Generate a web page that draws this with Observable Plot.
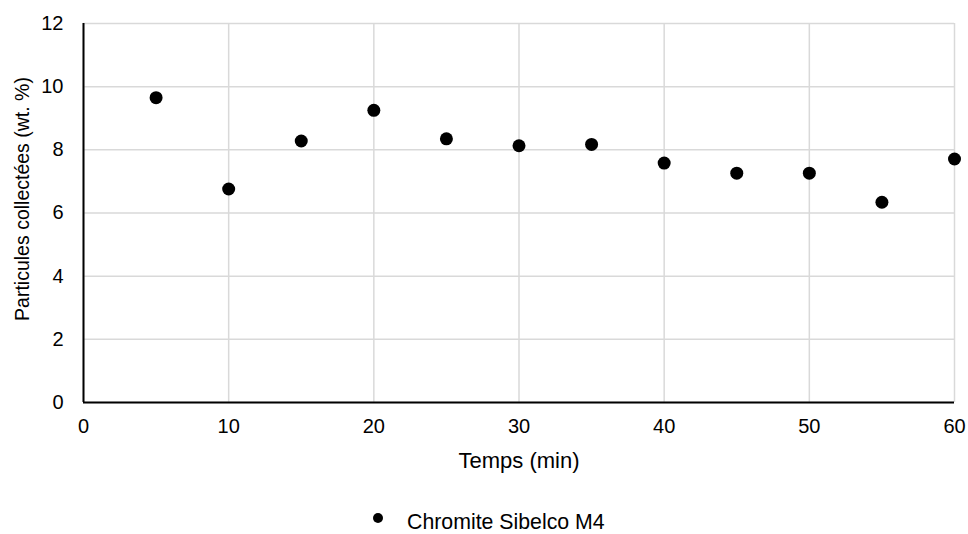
<!DOCTYPE html>
<html>
<head>
<meta charset="utf-8">
<script src="https://cdn.jsdelivr.net/npm/d3@7"></script>
<script src="https://cdn.jsdelivr.net/npm/@observablehq/plot@0.6"></script>
<style>
  body { margin: 0; background: #fff; font-family: "Liberation Sans", Arial, sans-serif; }
  #wrap { position: relative; width: 968px; height: 534px; }
  #legend { position: absolute; left: 373px; top: 509px; height: 26px; display: flex; align-items: center; font-size: 21.3px; color: #000; }
  #legend .dot { width: 10px; height: 10px; border-radius: 50%; background: #000; margin-right: 24px; margin-top: -8px; }
</style>
</head>
<body>
<div id="wrap">
  <div id="chart"></div>
  <div id="legend"><span class="dot"></span><span id="legend-text"></span></div>
</div>
<script>
const times = [5, 10, 15, 20, 25, 30, 35, 40, 45, 50, 55, 60];
const values = [9.65, 6.76, 8.28, 9.25, 8.35, 8.13, 8.17, 7.58, 7.26, 7.26, 6.34, 7.71];
const seriesName = "Chromite Sibelco M4";
const xTicks = [0, 10, 20, 30, 40, 50, 60];
const yTicks = [0, 2, 4, 6, 8, 10, 12];
const xLabel = "Temps (min)";
const yLabel = "Particules collectées (wt. %)";

const data = times.map((t, i) => ({t, v: values[i]}));

const chart = Plot.plot({
  width: 968,
  height: 490,
  marginLeft: 83,
  marginRight: 14,
  marginTop: 23,
  marginBottom: 88,
  style: { fontFamily: '"Liberation Sans", Arial, sans-serif', fontSize: "20px", color: "#000", background: "#fff" },
  x: { domain: [0, 60] },
  y: { domain: [0, 12] },
  marks: [
    Plot.gridX(xTicks, { stroke: "#d9d9d9", strokeOpacity: 1, strokeWidth: 1.5 }),
    Plot.gridY(yTicks, { stroke: "#d9d9d9", strokeOpacity: 1, strokeWidth: 1.5 }),
    Plot.axisX(xTicks, { tickSize: 0, tickPadding: 16, label: null, fill: "#000", fontSize: 20 }),
    Plot.axisY(yTicks, { tickSize: 0, tickPadding: 20, label: null, fill: "#000", fontSize: 20 }),
    Plot.ruleX([0], { stroke: "#000", strokeWidth: 2 }),
    Plot.ruleY([0], { stroke: "#000", strokeWidth: 2 }),
    Plot.dot(data, { x: "t", y: "v", r: 6.5, fill: "#000", stroke: "none" }),
    Plot.text([xLabel], { text: d => d, frameAnchor: "bottom", dy: 58, lineAnchor: "middle", textAnchor: "middle", fill: "#000", fontSize: 22 }),
    Plot.text([yLabel], { text: d => d, frameAnchor: "left", dx: -61, dy: -14, rotate: -90, lineAnchor: "middle", textAnchor: "middle", fill: "#000", fontSize: 19.5 })
  ]
});
document.getElementById("chart").appendChild(chart);
document.getElementById("legend-text").textContent = seriesName;
</script>
</body>
</html>
